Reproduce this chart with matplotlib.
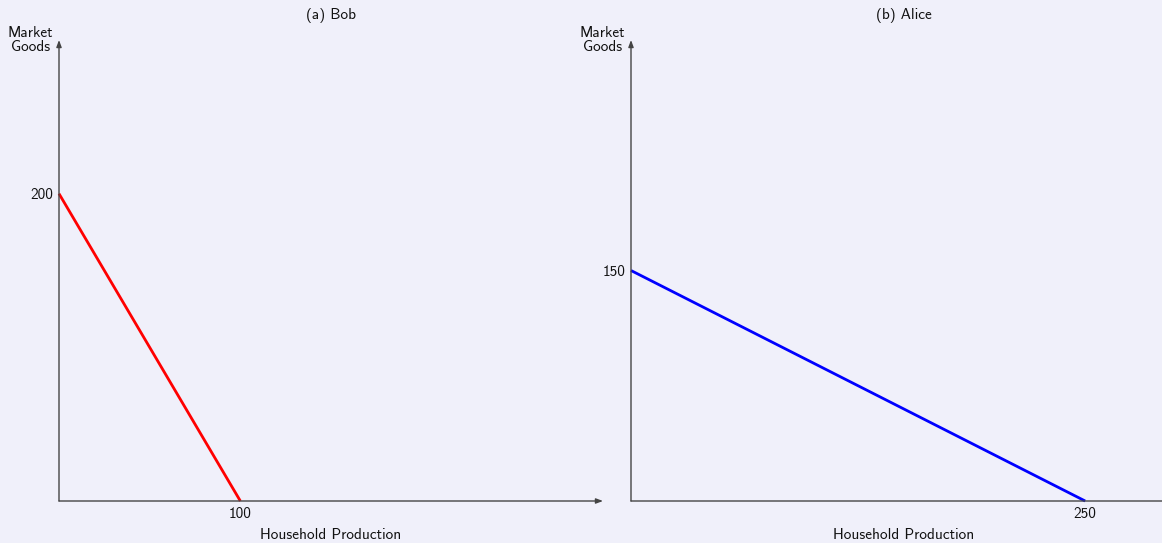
import numpy as np
import matplotlib
matplotlib.use('Agg')
from matplotlib import pyplot as plt

plt.rcParams['font.family'] = ['cmss10', 'DejaVu Sans']
plt.rcParams['axes.unicode_minus'] = False

# production possibilities: (household production, market goods) intercepts
titles = ['(a) Bob', '(b) Alice']
house_max = [100, 250]
market_max = [200, 150]
colors = ['red', 'blue']

bg = '#F0F0FA'
axis_col = '#444444'
txt_col = '#111111'
fs = 11

fig = plt.figure(figsize=(11.62, 5.43), dpi=100)
fig.patch.set_facecolor(bg)

W, H = 1162, 543
boxes = [(59, 40, 544, 461), (631, 40, 545, 461)]

for k, (x0, y0, w, h) in enumerate(boxes):
    ax = fig.add_axes([x0 / W, (H - y0 - h) / H, w / W, h / H])
    ax.set_facecolor(bg)
    ax.set_xlim(0, 300)
    ax.set_ylim(0, 300)
    for s in ax.spines.values():
        s.set_visible(False)

    # axes with arrow heads
    arrow = dict(arrowstyle='-|>,head_length=0.4,head_width=0.15',
                 color=axis_col, lw=1.0, shrinkA=0, shrinkB=0)
    ax.annotate('', xy=(1.0, 0), xytext=(0, 0), xycoords='axes fraction',
                arrowprops=arrow, annotation_clip=False)
    ax.annotate('', xy=(0, 1.0), xytext=(0, 0), xycoords='axes fraction',
                arrowprops=arrow, annotation_clip=False)

    ax.plot([0, house_max[k]], [market_max[k], 0], color=colors[k], lw=2.0,
            solid_capstyle='butt', clip_on=False)

    ax.set_xticks([house_max[k]])
    ax.set_yticks([market_max[k]])
    ax.set_xticklabels([str(house_max[k])], fontsize=fs)
    ax.set_yticklabels([str(market_max[k])], fontsize=fs)
    ax.tick_params(length=0, pad=4, colors=txt_col)

    ax.set_title(titles[k], fontsize=fs, pad=15, color=txt_col)
    ax.set_xlabel('Household Production', fontsize=fs, color=txt_col)
    ax.xaxis.set_label_coords(0.5, -34 / h)
    ax.xaxis.label.set_va('center')
    ax.text(-6 / w, 1.0, 'Market\nGoods', transform=ax.transAxes, ha='right',
            va='center', fontsize=fs, linespacing=1.0, multialignment='center',
            color=txt_col)

fig.savefig('out.png', dpi=100, facecolor=bg)
